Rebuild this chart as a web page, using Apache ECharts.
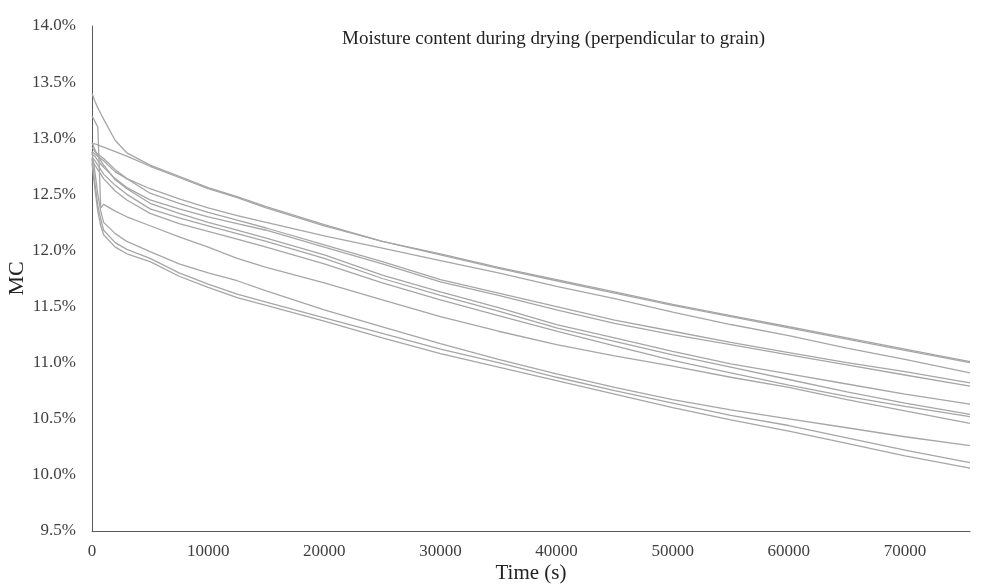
<!DOCTYPE html>
<html>
<head>
<meta charset="utf-8">
<script src="https://cdn.jsdelivr.net/npm/echarts@6/dist/echarts.min.js"></script>
<style>
html,body{margin:0;padding:0;background:#fff;}
#c{width:985px;height:584px;}
</style>
</head>
<body>
<div id="c"></div>
<script>
// Time (s)
var times = [0, 250, 500, 750, 1000, 2000, 3000, 5000, 7500, 10000, 12500, 15000, 20000, 25000, 30000, 35000, 40000, 45000, 50000, 55000, 60000, 65000, 70000, 75600];
// Moisture content (%) per specimen
var mcA  = [13.40, 13.33, 13.27, 13.22, 13.17, 12.98, 12.87, 12.76, 12.66, 12.56, 12.48, 12.39, 12.23, 12.08, 11.97, 11.85, 11.74, 11.63, 11.52, 11.42, 11.32, 11.22, 11.12, 11.01];
var mcA2 = [12.95, 12.95, 12.94, 12.93, 12.92, 12.88, 12.84, 12.75, 12.65, 12.55, 12.47, 12.38, 12.22, 12.08, 11.96, 11.84, 11.73, 11.62, 11.51, 11.41, 11.31, 11.21, 11.11, 11.00];
var mcB  = [12.88, 12.86, 12.84, 12.82, 12.80, 12.70, 12.64, 12.55, 12.46, 12.38, 12.31, 12.25, 12.13, 12.02, 11.91, 11.80, 11.68, 11.57, 11.45, 11.34, 11.24, 11.13, 11.03, 10.91];
var mcC  = [12.92, 12.88, 12.86, 12.84, 12.82, 12.72, 12.64, 12.51, 12.42, 12.34, 12.27, 12.20, 12.05, 11.90, 11.74, 11.62, 11.50, 11.38, 11.28, 11.18, 11.09, 11.00, 10.92, 10.82];
var mcD  = [12.86, 12.84, 12.80, 12.77, 12.74, 12.64, 12.56, 12.45, 12.37, 12.30, 12.24, 12.18, 12.03, 11.88, 11.72, 11.60, 11.47, 11.35, 11.25, 11.16, 11.07, 10.98, 10.89, 10.79];
var mcE  = [12.96, 12.90, 12.84, 12.80, 12.76, 12.63, 12.55, 12.42, 12.33, 12.25, 12.18, 12.11, 11.96, 11.78, 11.63, 11.49, 11.34, 11.22, 11.10, 10.99, 10.90, 10.81, 10.72, 10.63];
var mcF  = [12.83, 12.80, 12.76, 12.72, 12.68, 12.58, 12.50, 12.37, 12.29, 12.22, 12.15, 12.08, 11.93, 11.75, 11.60, 11.46, 11.31, 11.19, 11.07, 10.96, 10.85, 10.74, 10.64, 10.54];
var mcG  = [12.80, 12.76, 12.72, 12.68, 12.64, 12.53, 12.45, 12.33, 12.24, 12.17, 12.10, 12.03, 11.88, 11.71, 11.56, 11.42, 11.28, 11.15, 11.02, 10.91, 10.80, 10.70, 10.61, 10.52];
var mcH  = [13.20, 13.15, 13.10, 12.38, 12.41, 12.35, 12.30, 12.22, 12.12, 12.03, 11.93, 11.85, 11.71, 11.56, 11.41, 11.28, 11.16, 11.06, 10.97, 10.87, 10.78, 10.67, 10.57, 10.46];
var mcI  = [12.88, 12.70, 12.50, 12.35, 12.25, 12.15, 12.08, 11.99, 11.88, 11.80, 11.73, 11.64, 11.47, 11.32, 11.17, 11.03, 10.90, 10.78, 10.67, 10.58, 10.50, 10.42, 10.34, 10.26];
var mcJ  = [12.82, 12.60, 12.40, 12.28, 12.18, 12.07, 12.01, 11.93, 11.80, 11.70, 11.61, 11.54, 11.40, 11.26, 11.12, 11.00, 10.87, 10.75, 10.64, 10.53, 10.44, 10.33, 10.22, 10.11];
var mcK  = [12.78, 12.55, 12.35, 12.22, 12.14, 12.03, 11.97, 11.90, 11.77, 11.67, 11.58, 11.51, 11.37, 11.22, 11.08, 10.96, 10.84, 10.72, 10.60, 10.49, 10.39, 10.28, 10.17, 10.06];
var allSeries = [mcA, mcA2, mcB, mcC, mcD, mcE, mcF, mcG, mcH, mcI, mcJ, mcK];
var yTicks = [9.5, 14.0, 0.5];   // min, max, step
var xTicks = [0, 75600, 10000];  // min, max, step

var chart = echarts.init(document.getElementById('c'), null, {renderer: 'canvas'});
var font = '"Liberation Serif", "Times New Roman", serif';
var series = allSeries.map(function (vals, i) {
  return {
    type: 'line',
    name: 'S' + (i + 1),
    data: times.map(function (t, j) { return [t, vals[j]]; }),
    showSymbol: false,
    symbol: 'none',
    smooth: false,
    lineStyle: {color: '#a6a6a6', width: 1.3},
    silent: true,
    animation: false
  };
});

chart.setOption({
  animation: false,
  backgroundColor: '#ffffff',
  title: {
    text: 'Moisture content during drying (perpendicular to grain)',
    left: 337, top: 25,
    textStyle: {fontFamily: font, fontSize: 19, fontWeight: 'normal', color: '#222'}
  },
  grid: {left: 92, right: 15, top: 26, bottom: 53, containLabel: false, outerBoundsMode: 'none'},
  xAxis: {
    type: 'value',
    min: xTicks[0], max: xTicks[1], interval: xTicks[2],
    name: 'Time (s)', nameLocation: 'middle', nameGap: 32,
    nameMoveOverlap: false,
    nameTextStyle: {fontFamily: font, fontSize: 21, color: '#222'},
    axisLine: {show: true, onZero: false, lineStyle: {color: '#595959', width: 1}},
    axisTick: {show: false},
    splitLine: {show: false},
    axisLabel: {fontFamily: font, fontSize: 17, color: '#404040', margin: 12,
      showMaxLabel: false,
      formatter: function (v) { return String(v); }}
  },
  yAxis: {
    type: 'value',
    min: yTicks[0], max: yTicks[1], interval: yTicks[2],
    name: 'MC', nameLocation: 'middle', nameGap: 64,
    nameMoveOverlap: false,
    nameTextStyle: {fontFamily: font, fontSize: 22, color: '#222'},
    axisLine: {show: true, lineStyle: {color: '#595959', width: 1}},
    axisTick: {show: false},
    splitLine: {show: false},
    axisLabel: {fontFamily: font, fontSize: 17, color: '#404040', margin: 16,
      formatter: function (v) { return v.toFixed(1) + '%'; }}
  },
  series: series
});
</script>
</body>
</html>
